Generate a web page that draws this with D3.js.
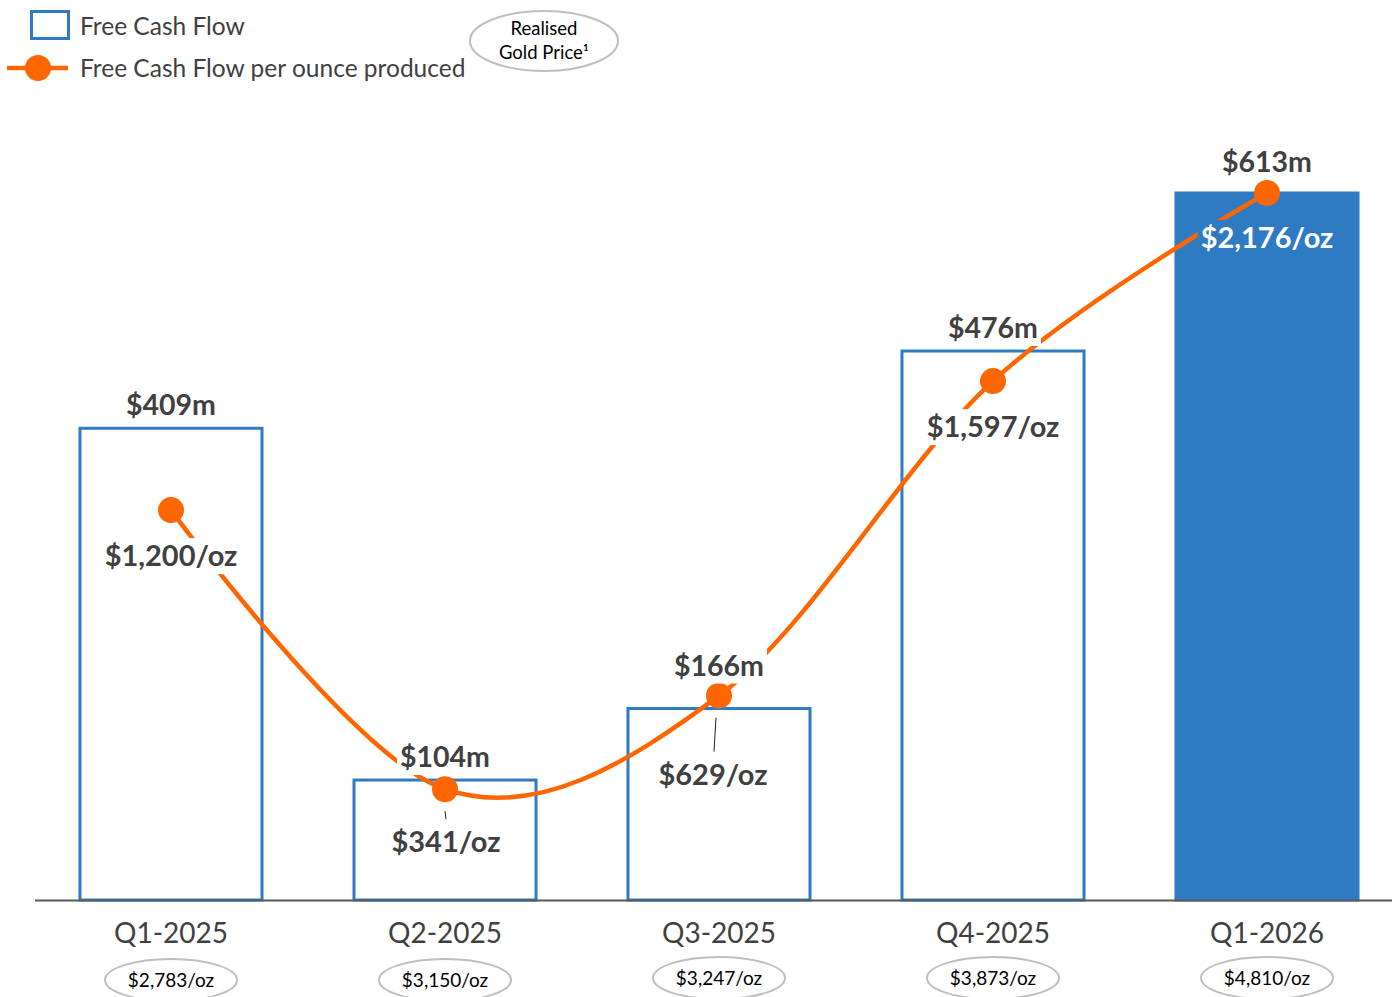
<!DOCTYPE html>
<html><head><meta charset="utf-8">
<script src="https://cdn.jsdelivr.net/npm/d3@7"></script>
<style>html,body{margin:0;padding:0;background:#fff;} svg{display:block;}</style>
</head><body>
<script>
// ---- data ----
const categories = ["Q1-2025","Q2-2025","Q3-2025","Q4-2025","Q1-2026"];
const fcfMillions = [409,104,166,476,613];
const fcfPerOunce = [1200,341,629,1597,2176];
const realisedGoldPrice = [2783,3150,3247,3873,4810];
const legendLabels = ["Free Cash Flow","Free Cash Flow per ounce produced"];
const goldPriceTitle = ["Realised","Gold Price\u00B9"];

// ---- layout tweaks (label placement only) ----
const fcfLabelGap = [13,13,33,13,21];
const ozLabelGap = [56,63,89,56,55];
const ozLabelShift = [0,1,-6,0,0];
const ozLeader = [false,true,true,false,false];

const W=1392,H=997;
const BLUE="#2E7BC4", ORANGE="#FF6600", TXT="#404040";
const FONT="Lato, 'Open Sans', sans-serif";

const svg=d3.select("body").append("svg").attr("width",W).attr("height",H)
  .style("font-family",FONT);

const x=d3.scaleBand().domain(categories).range([34,1404]).paddingInner(0.332).paddingOuter(0.166);
const y=d3.scaleLinear().domain([0,613]).range([900,193]);
const y2=d3.scaleLinear().domain([0,2176]).range([900,193]);
const cx=i=>x(categories[i])+x.bandwidth()/2;

// bars
svg.selectAll("rect.bar").data(fcfMillions).join("rect")
  .attr("class","bar")
  .attr("x",(d,i)=>x(categories[i])+0.5)
  .attr("width",x.bandwidth()-1)
  .attr("y",d=>y(d))
  .attr("height",d=>y(0)-y(d))
  .attr("fill",(d,i)=>i===categories.length-1?BLUE:"#fff")
  .attr("stroke",BLUE).attr("stroke-width",3);

// line
const pts=fcfPerOunce.map((v,i)=>[cx(i),y2(v)]);
svg.append("path").attr("d",d3.line().curve(d3.curveCardinal.tension(0))(pts))
  .attr("fill","none").attr("stroke",ORANGE).attr("stroke-width",4.5);
svg.selectAll("circle.pt").data(pts).join("circle").attr("class","pt")
  .attr("cx",d=>d[0]).attr("cy",d=>d[1]).attr("r",13).attr("fill",ORANGE);

// leader lines
fcfPerOunce.forEach((v,i)=>{
  if(!ozLeader[i])return;
  const top=y2(v)+22, bot=y2(v)+ozLabelGap[i]-33;
  svg.append("line").attr("x1",cx(i)-3+(i===1?3:0)).attr("y1",top)
    .attr("x2",cx(i)+ozLabelShift[i]+(i===1?0:1)).attr("y2",bot)
    .attr("stroke","#222").attr("stroke-width",1);
});

function boxedText(g,xx,yy,txt,size,color,bg){
  const grp=g.append("g");
  const r=grp.append("rect");
  const t=grp.append("text").attr("x",xx).attr("y",yy).attr("text-anchor","middle")
    .attr("font-size",size).attr("font-weight","bold").attr("fill",color).text(txt);
  const b=t.node().getBBox();
  r.attr("x",b.x-3).attr("y",b.y+1).attr("width",b.width+6).attr("height",b.height+1).attr("fill",bg);
}
const lab=svg.append("g");
fcfMillions.forEach((v,i)=>{
  boxedText(lab,cx(i),y(v)-fcfLabelGap[i],"$"+v+"m",28.5,TXT,"#fff");
});
fcfPerOunce.forEach((v,i)=>{
  const last=i===categories.length-1;
  boxedText(lab,cx(i)+ozLabelShift[i],y2(v)+ozLabelGap[i],"$"+d3.format(",")(v)+"/oz",29,last?"#fff":TXT,last?BLUE:"#fff");
});

// axis baseline
svg.append("line").attr("x1",35).attr("x2",W).attr("y1",900.5).attr("y2",900.5)
  .attr("stroke","#595959").attr("stroke-width",2);

// category labels
svg.selectAll("text.cat").data(categories).join("text").attr("class","cat")
  .attr("x",(d,i)=>cx(i)).attr("y",943).attr("text-anchor","middle")
  .attr("font-size",28).attr("fill",TXT).text(d=>d);

// gold price ellipses
realisedGoldPrice.forEach((v,i)=>{
  const ey=i===0||i===1?980:978;
  svg.append("ellipse").attr("cx",cx(i)).attr("cy",ey).attr("rx",66).attr("ry",21)
    .attr("fill","#fff").attr("stroke","#BFBFBF").attr("stroke-width",2);
  svg.append("text").attr("x",cx(i)).attr("y",ey+7).attr("text-anchor","middle")
    .attr("font-size",19).attr("fill","#000").text("$"+d3.format(",")(v)+"/oz");
});

// legend
svg.append("rect").attr("x",31.5).attr("y",11.5).attr("width",37).attr("height",27)
  .attr("fill","#fff").attr("stroke",BLUE).attr("stroke-width",3);
svg.append("line").attr("x1",7).attr("x2",68).attr("y1",68).attr("y2",68)
  .attr("stroke",ORANGE).attr("stroke-width",4.5);
svg.append("circle").attr("cx",38).attr("cy",68).attr("r",13).attr("fill",ORANGE);
svg.selectAll("text.leg").data(legendLabels).join("text").attr("class","leg")
  .attr("x",80).attr("y",(d,i)=>35+i*42).attr("font-size",24.5).attr("fill",TXT).text(d=>d);

svg.append("ellipse").attr("cx",544).attr("cy",41).attr("rx",74).attr("ry",30)
  .attr("fill","#fff").attr("stroke","#BFBFBF").attr("stroke-width",2);
svg.selectAll("text.gp").data(goldPriceTitle).join("text").attr("class","gp")
  .attr("x",544).attr("y",(d,i)=>35+i*24).attr("text-anchor","middle")
  .attr("font-size",18.5).attr("fill","#000").text(d=>d);
</script>
</body></html>
